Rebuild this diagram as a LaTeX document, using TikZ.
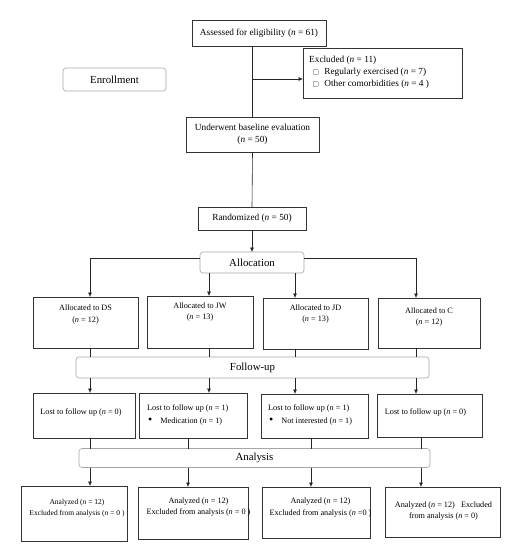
\documentclass[tikz,border=0pt]{standalone}
\usepackage{fontspec}
\setmainfont{Liberation Serif}
\usetikzlibrary{arrows.meta,positioning,calc}
\newcommand{\unticked}{{\setlength{\fboxrule}{0.3pt}\setlength{\fboxsep}{0pt}\textcolor{black!30}{\fbox{\rule{0pt}{4.5pt}\hspace{4.5pt}}}}}
\tikzset{
  stagebox/.style={
    draw=black!80,
    line width=0.7pt,
    inner sep=0pt,
    outer sep=0pt
  },
  topbox/.style={
    stagebox,
    align=center,
    font=\fontsize{9.3}{12}\selectfont
  },
  phasebox/.style={
    draw=black!35,
    line width=0.6pt,
    rounded corners=3pt,
    inner sep=0pt,
    outer sep=0pt,
    font=\fontsize{10.8}{13}\selectfont
  },
  armtext/.style={align=center,inner sep=0pt,font=\fontsize{8.2}{11.5}\selectfont},
  listtext/.style={align=left,inner sep=0pt,anchor=west,font=\fontsize{8.2}{13}\selectfont},
  flowline/.style={line width=0.6pt,draw=black!85},
  flowarrow/.style={flowline,-{Latex[length=4.5pt,width=4pt]}}
}

\begin{document}
\begin{tikzpicture}[x=1pt,y=-1pt]
  \useasboundingbox (0,0) rectangle (520,550);
  % enrollment
  \node[topbox,minimum width=134pt,minimum height=26pt] (assessed) at (259,33) {Assessed for eligibility (\textit{n} = 61)};
  \node[stagebox,minimum width=159pt,minimum height=50pt] (excluded) at (382.5,73) {};
  \node[listtext,font=\fontsize{9.3}{12}\selectfont] (excludedtext) at (309,72) {Excluded (\textit{n} = 11)\\
    \hspace*{4pt}\unticked\hspace{6pt}Regularly exercised (\textit{n} = 7)\\
    \hspace*{4pt}\unticked\hspace{6pt}Other comorbidities (\textit{n} = 4 )};
  \node[phasebox,minimum width=103pt,minimum height=23pt] (enroll) at (114.5,79.5) {Enrollment};
  \node[topbox,minimum width=133pt,minimum height=35pt] (baseline) at (252.5,134.5) {Underwent baseline evaluation\\(\textit{n} = 50)};
  \node[topbox,minimum width=108pt,minimum height=23pt] (random) at (252,218.5) {Randomized (\textit{n} = 50)};
  \coordinate (exitpt) at (252,79);
  \draw[flowline] (assessed.south -| baseline.north) -- (baseline.north);
  \draw[flowarrow] (exitpt) -- (exitpt -| excluded.west);
  \draw[flowline] (baseline.south) -- (random.north);

  % allocation
  \node[phasebox,minimum width=104pt,minimum height=21pt] (alloc) at (252,262.5) {Allocation};
  \draw[flowarrow] (random.south) -- (alloc.north);
  \coordinate (colA) at (90,0);
  \coordinate (colB) at (209,0);
  \coordinate (colC) at (295,0);
  \coordinate (colD) at (416,0);
  \node[stagebox,minimum width=105pt,minimum height=51pt] (armds) at (85.5,322.5) {};
  \node[stagebox,minimum width=106pt,minimum height=52pt] (armjw) at (200,322) {};
  \node[stagebox,minimum width=105pt,minimum height=51pt] (armjd) at (315.5,323.5) {};
  \node[stagebox,minimum width=102pt,minimum height=50pt] (armc) at (429,323) {};
  \node[armtext] (dstext) at (85.5,314.5) {Allocated to DS\\(\textit{n} = 12)};
  \node[armtext] (jwtext) at (200,312) {Allocated to JW\\(\textit{n} = 13)};
  \node[armtext] (jdtext) at (315.5,314) {Allocated to JD\\(\textit{n} = 13)};
  \node[armtext] (ctext) at (429,317) {Allocated to C\\(\textit{n} = 12)};
  \draw[flowarrow] ([yshift=4.5pt]alloc.west) -| (colA |- armds.north);
  \draw[flowarrow] ([yshift=4.5pt]alloc.east) -| (colD |- armc.north);
  \draw[flowarrow] (colB |- alloc.south) -- (colB |- armjw.north);
  \draw[flowarrow] (colC |- alloc.south) -- (colC |- armjd.north);

  % follow-up
  \node[phasebox,minimum width=353pt,minimum height=21pt] (follow) at (252.5,367.5) {Follow-up};
  \node[stagebox,minimum width=102pt,minimum height=45pt] (lostds) at (84,415.5) {};
  \node[stagebox,minimum width=108pt,minimum height=45pt] (lostjw) at (193,415.5) {};
  \node[stagebox,minimum width=107pt,minimum height=44pt] (lostjd) at (314.5,416) {};
  \node[stagebox,minimum width=105pt,minimum height=43pt] (lostc) at (429.5,415.5) {};
  \node[armtext] (lostdstext) at (81,412) {Lost to follow up (\textit{n} = 0)};
  \node[listtext] (lostjwtext) at (147,414.5) {Lost to follow up (\textit{n} = 1)\\
    \hspace*{1pt}{\large\textbullet}\hspace{8pt}Medication (\textit{n} = 1)};
  \node[listtext] (lostjdtext) at (268,414.5) {Lost to follow up (\textit{n} = 1)\\
    \hspace*{1pt}{\large\textbullet}\hspace{8pt}Not interested (\textit{n} = 1)};
  \node[armtext] (lostctext) at (425.5,412) {Lost to follow up (\textit{n} = 0)};
  \foreach \arm/\col in {armds/colA,armjw/colB,armjd/colC,armc/colD}
    \draw[flowline] (\col |- \arm.south) -- (\col |- follow.north);
  \foreach \lost/\col in {lostds/colA,lostjw/colB,lostjd/colC,lostc/colD}
    \draw[flowarrow] (\col |- follow.south) -- (\col |- \lost.north);

  % analysis
  \coordinate (lowA) at (90,0);
  \coordinate (lowB) at (188,0);
  \coordinate (lowC) at (311,0);
  \coordinate (lowD) at (421,0);
  \node[phasebox,minimum width=351pt,minimum height=19pt] (analysis) at (254.5,458) {Analysis};
  \node[stagebox,minimum width=106pt,minimum height=55pt] (anads) at (74,513.5) {};
  \node[stagebox,minimum width=110pt,minimum height=52pt] (anajw) at (193,513) {};
  \node[stagebox,minimum width=108pt,minimum height=51pt] (anajd) at (316,512.5) {};
  \node[stagebox,minimum width=115pt,minimum height=50pt] (anac) at (442.5,512) {};
  \node[armtext,font=\fontsize{7.5}{10.5}\selectfont] (anadstext) at (77,508) {Analyzed (\textit{n} = 12)\\Excluded from analysis (\textit{n} = 0 )};
  \node[armtext] (anajwtext) at (198.5,507) {Analyzed (\textit{n} = 12)\\Excluded from analysis (\textit{n} = 0 )};
  \node[armtext] (anajdtext) at (320.5,507.5) {Analyzed (\textit{n} = 12)\\Excluded from analysis (\textit{n} =0 )};
  \node[armtext] (anactext) at (443.5,511) {Analyzed (\textit{n} = 12)\ \ \ Excluded\\from analysis (\textit{n} = 0)};
  \foreach \lost/\col in {lostds/lowA,lostjw/lowB,lostjd/lowC,lostc/lowD}
    \draw[flowline] (\col |- \lost.south) -- (\col |- analysis.north);
  \foreach \ana/\col in {anads/lowA,anajw/lowB,anajd/lowC,anac/lowD}
    \draw[flowarrow] (\col |- analysis.south) -- (\col |- \ana.north);
\end{tikzpicture}
\end{document}
